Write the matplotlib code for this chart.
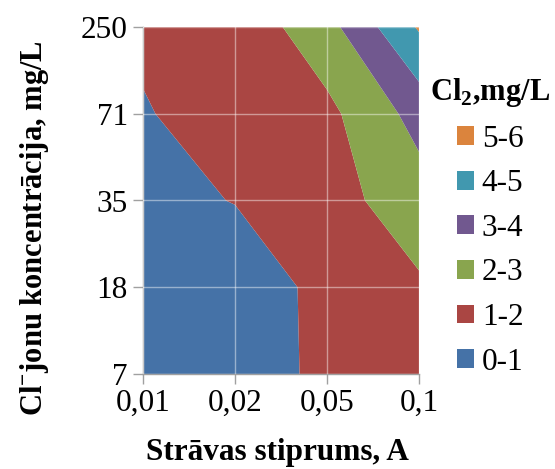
import numpy as np
import matplotlib
matplotlib.use("Agg")
import matplotlib.pyplot as plt
from matplotlib.patches import Patch

plt.rcParams["font.family"] = ["Liberation Serif", "DejaVu Serif"]
plt.rcParams["mathtext.fontset"] = "custom"
plt.rcParams["mathtext.rm"] = "Liberation Serif"
plt.rcParams["mathtext.bf"] = "Liberation Serif:bold"

# Current (A) and chloride concentration (mg/L) categories
current_labels = ["0,01", "0,02", "0,05", "0,1"]
chloride_labels = ["7", "18", "35", "71", "250"]

# Cl2 concentration (mg/L): one row per chloride level, one column per current
cl2_7 = [0.30, 0.53, 1.20, 1.55]
cl2_18 = [0.40, 0.575, 1.20, 1.87]
cl2_35 = [0.80, 1.022, 1.62, 2.54]
cl2_71 = [0.90, 1.64, 1.75, 3.36]
cl2_250 = [1.245, 1.30, 2.65, 5.10]

levels = [0, 1, 2, 3, 4, 5, 6]
band_labels = ["0-1", "1-2", "2-3", "3-4", "4-5", "5-6"]
band_colors = ["#4572A7", "#AA4643", "#89A54E", "#71588F", "#4198AF", "#DB843D"]

Z = np.array([cl2_7, cl2_18, cl2_35, cl2_71, cl2_250])
xi = np.arange(len(current_labels))
yi = np.arange(len(chloride_labels))

W, H = 555, 469
fig = plt.figure(figsize=(W / 100, H / 100), dpi=100)
ax = fig.add_axes([143 / W, 95 / H, 276 / W, 347 / H])

ax.contourf(xi, yi, Z, levels=levels, colors=band_colors, antialiased=True)

ax.set_xlim(0, len(current_labels) - 1)
ax.set_ylim(0, len(chloride_labels) - 1)
ax.set_xticks(xi)
ax.set_xticklabels(current_labels)
ax.set_yticks(yi)
ax.set_yticklabels(chloride_labels)

for x in xi:
    ax.axvline(x, color="white", alpha=0.45, lw=1.0, zorder=3)
for y in yi:
    ax.axhline(y, color="white", alpha=0.45, lw=1.0, zorder=3)

for side in ["top", "right"]:
    ax.spines[side].set_visible(False)
for side in ["left", "bottom"]:
    ax.spines[side].set_color("#A0A0A0")
    ax.spines[side].set_linewidth(1.0)

ax.tick_params(axis="both", length=7, width=1.0, color="#A0A0A0",
               labelsize=22.5, pad=4)

fig.text(277 / W, 1 - 452 / H, "Strāvas stiprums, A", fontsize=22.5,
         fontweight="bold", ha="center", va="center")
fig.text(35 / W, 1 - 228 / H, r"Cl$^{\mathbf{-}}$jonu koncentrācija, mg/L",
         fontsize=22, fontweight="bold", rotation=90, ha="center", va="center")

handles = [Patch(facecolor=c, edgecolor="none") for c in band_colors[::-1]]
leg = ax.legend(handles, band_labels[::-1], title=r"Cl$_{\mathbf{2}}$,mg/L",
                loc="upper left", bbox_to_anchor=(430 / W, 1 - 76 / H),
                bbox_transform=fig.transFigure, frameon=False, fontsize=22.5,
                title_fontproperties={"weight": "bold", "size": 22},
                handlelength=0.55, handleheight=0.55, handletextpad=0.25,
                labelspacing=0.5, borderpad=0.0, borderaxespad=0.0)

fig.savefig("out.png", dpi=100)
